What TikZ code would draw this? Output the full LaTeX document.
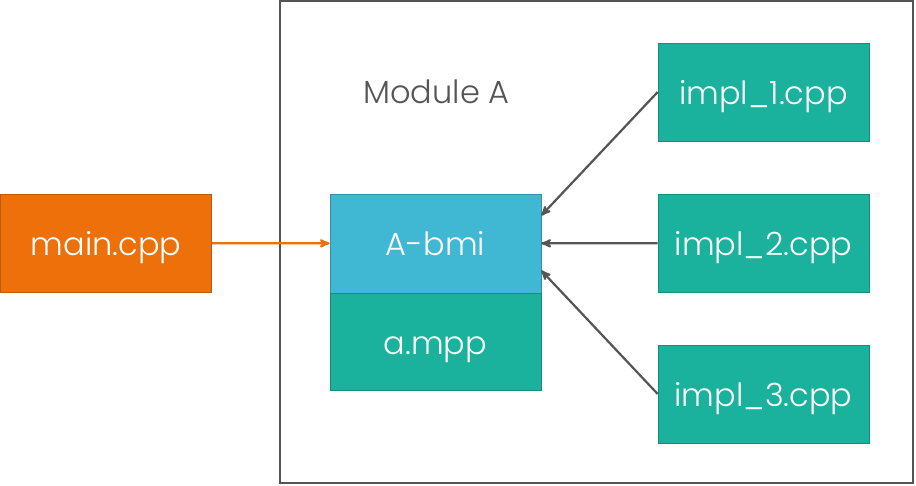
\documentclass[tikz,border=0pt]{standalone}
\usepackage{fontspec}
\setmainfont{Poppins}[UprightFont=* Light]
\usepackage{tikz}
\usetikzlibrary{positioning,calc}
\usetikzlibrary{arrows}
\definecolor{cppOrange}{HTML}{ED700A}
\definecolor{bmiBlue}{HTML}{41B8D3}
\definecolor{modTeal}{HTML}{1BB29D}
\definecolor{lineGray}{HTML}{555555}
\tikzset{
  file/.style={draw=#1!80!black, fill=#1, line width=0.6pt, minimum width=211pt, minimum height=98pt, inner sep=0pt, text height=24pt, text depth=0pt, text=white, font=\fontsize{32}{36}\selectfont},
  uses/.style={->, lineGray, line width=2.2pt},
}

\begin{document}
\begin{tikzpicture}[>=stealth', thick, x=1pt, y=-1pt]
\useasboundingbox (0,0) rectangle (916,485);
\draw [lineGray, line width=1.5pt] (280,1) rectangle (913,483);
\node [text=lineGray, inner sep=0pt, text height=24pt, text depth=0pt, font=\fontsize{32}{36}\selectfont] (modname) at (436.5,91) {Module A};
\node [file=cppOrange] (main) at (106,243) {main.cpp};
\node [file=bmiBlue, minimum height=99pt] (abmi) at (435.5,243.5) {A-bmi};
\node [file=modTeal, minimum height=97pt, below=0pt of abmi] (ampp) {a.mpp};
\node [file=modTeal] (impl1) at (763.5,92) {impl\_1.cpp};
\node [file=modTeal] (impl2) at (763.5,243) {impl\_2.cpp};
\node [file=modTeal] (impl3) at (763.5,394) {impl\_3.cpp};
\draw [->, cppOrange, line width=2.2pt] (main) -- (abmi);
\draw [uses] (impl1.west) -- ([yshift=28pt]abmi.east);
\draw [uses] (impl2) -- (abmi);
\draw [uses] (impl3.west) -- ([yshift=-27pt]abmi.east);
\end{tikzpicture}
\end{document}
